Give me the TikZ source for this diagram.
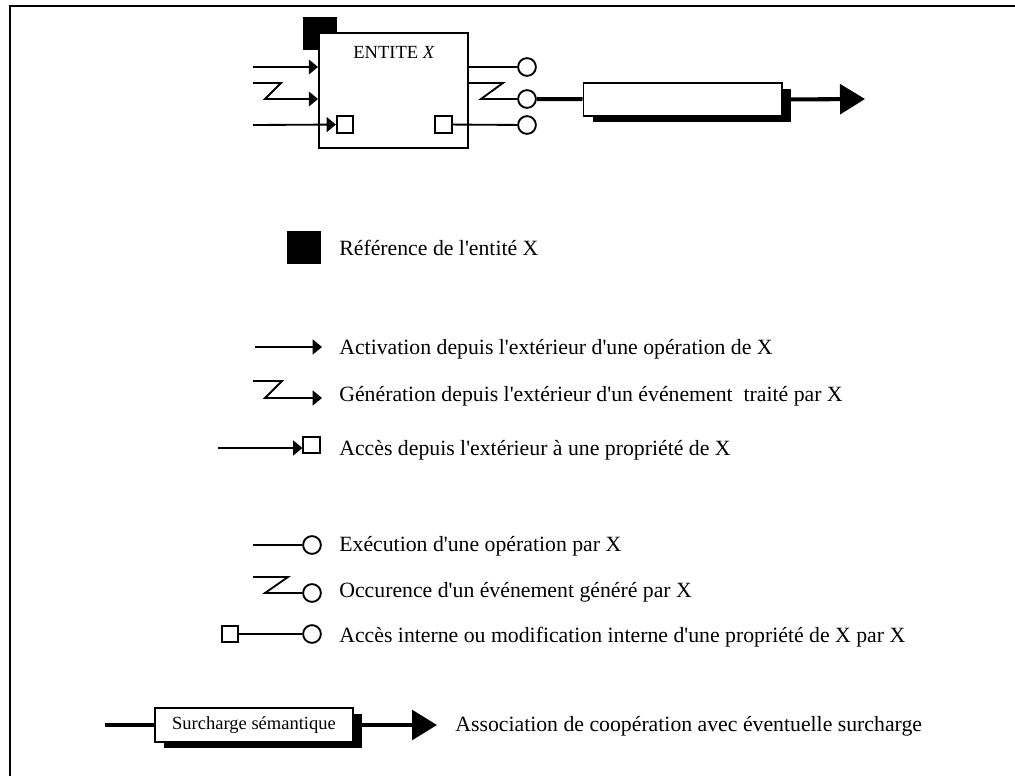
\documentclass[tikz,border=0pt]{standalone}
\usepackage{fontspec}
\setmainfont{Liberation Serif}
\usetikzlibrary{arrows.meta,shadows}

\tikzset{
  thinline/.style={line width=1pt},
  thickline/.style={line width=2.2pt},
  smalltip/.style={-{Triangle[length=5pt,width=8pt]}},
  bigtip/.style={-{Triangle[length=13.5pt,width=16pt]}},
  port/.style={circle,draw,thinline,fill=white,minimum size=9.6pt,inner sep=0pt},
  propbox/.style={rectangle,draw,thinline,fill=white,minimum size=8.8pt,inner sep=0pt},
  refbox/.style={rectangle,fill=black,minimum width=18.4pt,minimum height=17.8pt,inner sep=0pt},
  assoc/.style={rectangle,draw,thinline,fill=white,minimum width=107pt,minimum height=18pt,inner sep=0pt,
    drop shadow={shadow xshift=4.9pt,shadow yshift=-3.2pt,opacity=1,fill=black}},
  legend/.style={anchor=west,inner sep=0pt,font=\fontsize{11.75}{14}\selectfont},
}
\newcommand{\apos}{\textquotesingle}

\begin{document}
\begin{tikzpicture}[x=0.54pt,y=-0.54pt]
\useasboundingbox (0,0) rectangle (1015,776);
% cadre
\draw[line width=1.6pt](1015,6)--(10,6)--(10,776);

% entite X
\node[refbox] (ref) at (320,33.5) {};
\node[draw,thinline,fill=white,minimum width=80.5pt,minimum height=62pt,inner sep=0pt] (ent) at (393.5,90.5) {};
\node[font=\fontsize{10}{12}\selectfont] (titre) at (394,52) {ENTITE \textit{X}};
\node[propbox] (pin) at (345,124.5) {};
\node[propbox] (pout) at (443.5,124.5) {};
\node[port] (o1) at (527,67) {};
\node[port] (o2) at (527,99) {};
\node[port] (o3) at (527,125) {};
\coordinate (in1) at (253,67);
\coordinate (in2) at (253,83);
\coordinate (in3) at (253,125);
\draw[thinline,smalltip](in1)--(in1 -| ent.west);
\draw[thinline,smalltip](in2)--++(28,0)--++(-16,16)--(ent.west |- 0,99);
\draw[thinline,smalltip](in3)--(pin);
\draw[thinline](ent.east |- o1)--(o1);
\draw[thinline](ent.east |- 0,83)--++(34,0)--++(-22,16)--(o2);
\draw[thinline](pout)--(o3);

% association
\node[assoc] (as1) at (682.5,99.5) {};
\coordinate (fin1) at (865,99);
\draw[thickline](o2)--(as1);
\draw[thickline,bigtip](as1.east)--(fin1);

% legende
\node[refbox] (r2) at (304,247.5) {};
\node[legend] (t1) at (339,248) {Référence de l\apos entité X};

\coordinate (a1) at (255,347);
\coordinate (a1e) at (322,347);
\draw[thinline,smalltip](a1)--(a1e);
\node[legend] (t2) at (339,349) {Activation depuis l\apos extérieur d\apos une opération de X};

\coordinate (a2) at (253,381);
\coordinate (a2e) at (322,398);
\draw[thinline,smalltip](a2)--++(29,0)--++(-17,17)--(a2e);
\node[legend] (t3) at (339,396) {Génération depuis l\apos extérieur d\apos un événement\ \ traité par X};

\coordinate (a3) at (218,448);
\node[propbox] (p3) at (311.5,445) {};
\draw[thinline,smalltip](a3)--(a3 -| p3.west);
\node[legend] (t4) at (339,450) {Accès depuis l\apos extérieur à une propriété de X};

\coordinate (a4) at (253,545);
\node[port] (c4) at (312,545) {};
\draw[thinline](a4)--(c4);
\node[legend] (t5) at (339,546) {Exécution d\apos une opération par X};

\coordinate (a5) at (253,577);
\node[port] (c5) at (312,593) {};
\draw[thinline](a5)--++(35,0)--++(-23,16)--(c5);
\node[legend] (t6) at (339,592) {Occurence d\apos un événement généré par X};

\node[propbox] (p4) at (230,634) {};
\node[port] (c6) at (312,634) {};
\draw[thinline](p4)--(c6);
\node[legend] (t7) at (339,637) {Accès interne ou modification interne d\apos une propriété de X par X};

\coordinate (a6) at (105,725);
\coordinate (a6e) at (437,725);
\node[assoc,minimum height=18.4pt,font=\fontsize{10}{12}\selectfont] (as2) at (254,725) {Surcharge sémantique};
\draw[thickline](a6)--(as2);
\draw[thickline,bigtip](as2.east)--(a6e);
\node[legend] (t8) at (455,726) {Association de coopération avec éventuelle surcharge};

\end{tikzpicture}
\end{document}
